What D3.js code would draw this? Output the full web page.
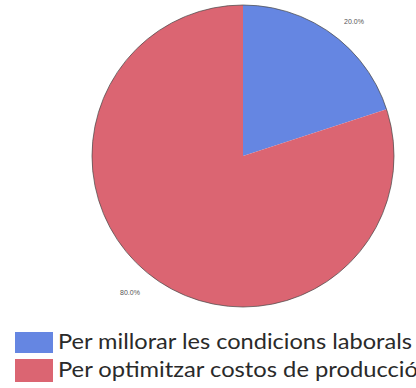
<!DOCTYPE html>
<html><head><meta charset="utf-8">
<script src="https://cdn.jsdelivr.net/npm/d3@7"></script>
<style>html,body{margin:0;padding:0;background:#fff;overflow:hidden}</style>
</head><body>
<svg id="c" width="416" height="388"></svg>
<script>
const categories = ["Per millorar les condicions laborals", "Per optimitzar costos de producció"];
const values = [20.0, 80.0];
const labels = ["20.0%", "80.0%"];
const colors = ["#6586e2", "#db6572"];

const svg = d3.select("#c");
const cx = 243, cy = 156, r = 151;
const pie = d3.pie().sort(null).value(d => d)(values);
const arc = d3.arc().innerRadius(0).outerRadius(r);
const g = svg.append("g").attr("transform", `translate(${cx},${cy})`);
g.selectAll("path").data(pie).enter().append("path")
  .attr("d", arc).attr("fill", (d,i) => colors[i]);
g.append("circle").attr("r", r).attr("fill", "none")
  .attr("stroke", "#444").attr("stroke-width", 1).attr("stroke-opacity", 0.7);

const labelPos = [[354 - cx, 22 - cy], [130 - cx, 293 - cy]];
g.selectAll("text.lbl").data(pie).enter().append("text")
  .attr("class", "lbl")
  .attr("x", (d,i) => labelPos[i][0]).attr("y", (d,i) => labelPos[i][1])
  .attr("text-anchor", "middle").attr("dominant-baseline", "middle")
  .attr("font-family", "Arial, Liberation Sans, sans-serif").attr("font-size", 7)
  .attr("fill", "#555").text((d,i) => labels[i]);

const leg = svg.append("g");
const rowsY = [332, 359];
const rowsH = [21, 23];
categories.forEach((c, i) => {
  leg.append("rect").attr("x", 15).attr("y", rowsY[i]).attr("width", 38).attr("height", rowsH[i]).attr("fill", colors[i]);
  leg.append("text").attr("x", 58).attr("y", i === 0 ? 349 : 377)
    .attr("font-family", "Lato, Open Sans, sans-serif").attr("font-size", 21)
    .attr("fill", "#2a2a2a").attr("textLength", i === 0 ? 354 : 360).attr("lengthAdjust", "spacingAndGlyphs")
    .text(c);
});
</script>
</body></html>
